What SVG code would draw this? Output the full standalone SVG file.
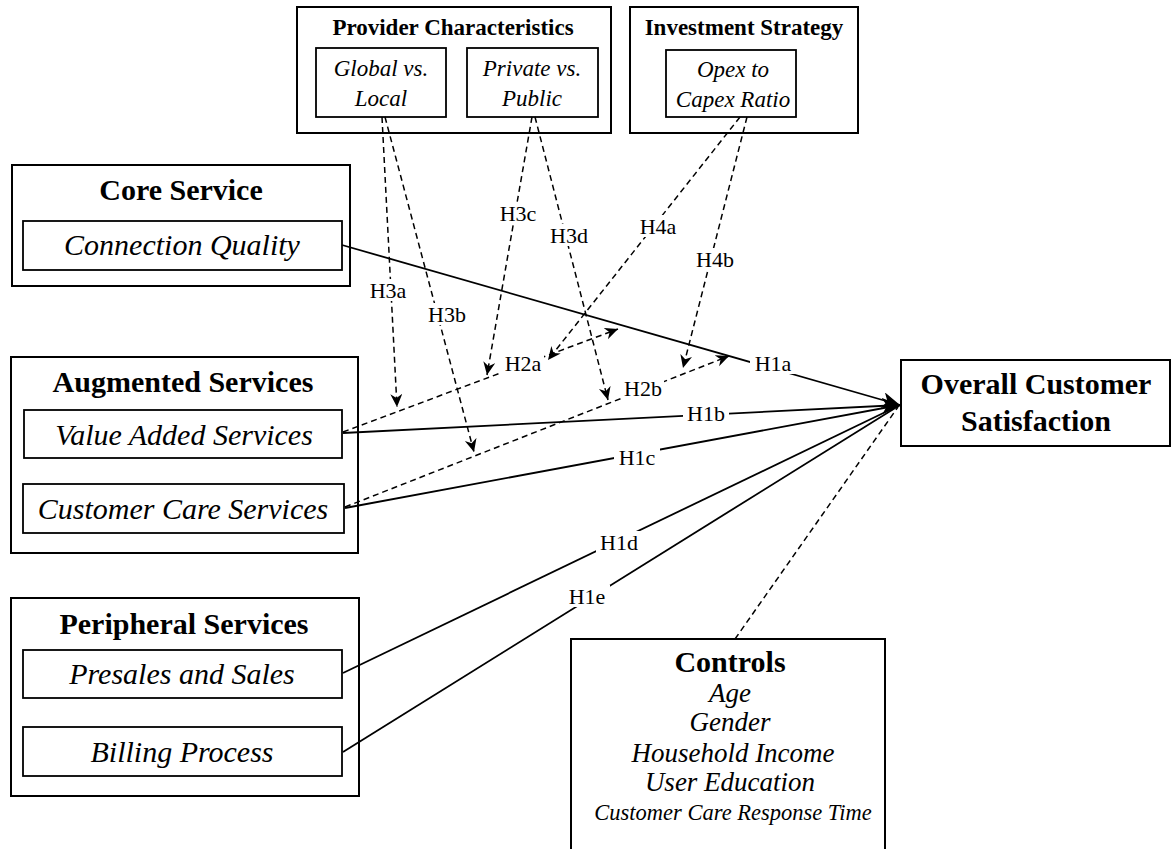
<svg xmlns="http://www.w3.org/2000/svg" width="1172" height="849" viewBox="0 0 1172 849">
<style>
.box{fill:#fff;stroke:#000;stroke-width:2}
.ibox{fill:#fff;stroke:#000;stroke-width:1.8}
.t{font-family:"Liberation Serif","Times New Roman",serif;fill:#000;text-anchor:middle}
.b30{font-size:30px;font-weight:bold}
.b23{font-size:23px;font-weight:bold}
.i30{font-size:30px;font-style:italic}
.i23{font-size:23px;font-style:italic}
.i27{font-size:27px;font-style:italic}
.i22{font-size:22.5px;font-style:italic}
.solid{fill:none;stroke:#000;stroke-width:1.8}
.dash{fill:none;stroke:#000;stroke-width:1.5;stroke-dasharray:6 4}
.lbl{font-family:"Liberation Serif","Times New Roman",serif;font-size:22px;fill:#000;text-anchor:middle}
.lbg{fill:#fff;stroke:none}
</style>
<defs>
<marker id="big" markerUnits="userSpaceOnUse" markerWidth="20" markerHeight="18" refX="18" refY="8" orient="auto">
<path d="M0,0 L18,8 L0,16 L5,8 z" fill="#000" stroke="none"/>
</marker>
<marker id="sm" markerUnits="userSpaceOnUse" markerWidth="15" markerHeight="14" refX="13" refY="6" orient="auto">
<path d="M0,0 L13,6 L0,12 L4,6 z" fill="#000" stroke="none"/>
</marker>
</defs>
<rect width="1172" height="849" fill="#fff"/>

<g id="provider">
<rect class="box" x="297" y="7" width="314" height="126"/>
<text class="t b23" x="453" y="35">Provider Characteristics</text>
<g id="global">
<rect class="ibox" x="316" y="48" width="130" height="69"/>
<text class="t i23" x="381" y="76">Global vs.</text>
<text class="t i23" x="381" y="106">Local</text>
</g>
<g id="private">
<rect class="ibox" x="467" y="48" width="131" height="69"/>
<text class="t i23" x="532" y="76">Private vs.</text>
<text class="t i23" x="532" y="106">Public</text>
</g>
</g>

<g id="investment">
<rect class="box" x="630" y="7" width="228" height="126"/>
<text class="t b23" x="744" y="35">Investment Strategy</text>
<g id="opex">
<rect class="ibox" x="666" y="50" width="130" height="67"/>
<text class="t i23" x="733" y="77">Opex to</text>
<text class="t i23" x="733" y="107">Capex Ratio</text>
</g>
</g>

<g id="core">
<rect class="box" x="12" y="165" width="338" height="121"/>
<text class="t b30" x="181" y="200">Core Service</text>
<g id="connection">
<rect class="ibox" x="23" y="221" width="319" height="49"/>
<text class="t i30" x="182" y="255">Connection  Quality</text>
</g>
</g>

<g id="augmented">
<rect class="box" x="11" y="357" width="347" height="196"/>
<text class="t b30" x="183" y="392">Augmented Services</text>
<g id="vas">
<rect class="ibox" x="24" y="410" width="318" height="48"/>
<text class="t i30" x="184" y="445">Value Added Services</text>
</g>
<g id="ccs">
<rect class="ibox" x="23" y="484" width="321" height="49"/>
<text class="t i30" x="183" y="519">Customer Care Services</text>
</g>
</g>

<g id="peripheral">
<rect class="box" x="11" y="598" width="348" height="198"/>
<text class="t b30" x="184" y="634">Peripheral Services</text>
<g id="presales">
<rect class="ibox" x="23" y="650" width="319" height="48"/>
<text class="t i30" x="182" y="684">Presales and  Sales</text>
</g>
<g id="billing">
<rect class="ibox" x="23" y="727" width="319" height="49"/>
<text class="t i30" x="182" y="762">Billing  Process</text>
</g>
</g>

<g id="ocs">
<rect class="box" x="901" y="360" width="269" height="86"/>
<text class="t b30" x="1036" y="394">Overall Customer</text>
<text class="t b30" x="1036" y="431">Satisfaction</text>
</g>

<g id="controls">
<rect class="box" x="571" y="639" width="314" height="230"/>
<text class="t b30" x="730" y="672">Controls</text>
<text class="t i27" x="730" y="702">Age</text>
<text class="t i27" x="730" y="731">Gender</text>
<text class="t i27" x="733" y="762">Household Income</text>
<text class="t i27" x="730" y="791">User Education</text>
<text class="t i22" x="733" y="820">Customer Care Response Time</text>
</g>

<g id="connectors">
<line class="solid" x1="342" y1="245" x2="900" y2="405" marker-end="url(#big)"/>
<line class="solid" x1="343" y1="433" x2="900" y2="405" marker-end="url(#big)"/>
<line class="solid" x1="345" y1="508" x2="900" y2="405"/>
<line class="solid" x1="343" y1="673" x2="900" y2="405"/>
<line class="solid" x1="343" y1="752" x2="900" y2="405"/>
<line class="dash" x1="735" y1="639" x2="898" y2="407"/>
<line class="dash" x1="343" y1="432" x2="618" y2="329" marker-end="url(#sm)"/>
<line class="dash" x1="345" y1="507" x2="729" y2="356" marker-end="url(#sm)"/>
<line class="dash" x1="382" y1="117" x2="397" y2="407" marker-end="url(#sm)"/>
<line class="dash" x1="385" y1="117" x2="474" y2="452" marker-end="url(#sm)"/>
<line class="dash" x1="532" y1="117" x2="487" y2="375" marker-end="url(#sm)"/>
<line class="dash" x1="535" y1="117" x2="608" y2="400" marker-end="url(#sm)"/>
<line class="dash" x1="740" y1="117" x2="548" y2="360" marker-end="url(#sm)"/>
<line class="dash" x1="747" y1="117" x2="683" y2="368" marker-end="url(#sm)"/>
</g>

<g id="labels">
<rect class="lbg" x="750" y="352" width="46" height="22"/><text class="lbl" x="773" y="371">H1a</text>
<rect class="lbg" x="683" y="402" width="46" height="22"/><text class="lbl" x="706" y="421">H1b</text>
<rect class="lbg" x="614" y="446" width="46" height="22"/><text class="lbl" x="637" y="465">H1c</text>
<rect class="lbg" x="596" y="531" width="46" height="22"/><text class="lbl" x="619" y="550">H1d</text>
<rect class="lbg" x="564" y="585" width="46" height="22"/><text class="lbl" x="587" y="604">H1e</text>
<rect class="lbg" x="502" y="352" width="42" height="22"/><text class="lbl" x="523" y="371">H2a</text>
<rect class="lbg" x="622" y="377" width="42" height="22"/><text class="lbl" x="643" y="396">H2b</text>
<rect class="lbg" x="368" y="279" width="40" height="22"/><text class="lbl" x="388" y="298">H3a</text>
<rect class="lbg" x="427" y="303" width="40" height="22"/><text class="lbl" x="447" y="322">H3b</text>
<rect class="lbg" x="498" y="202" width="40" height="22"/><text class="lbl" x="518" y="221">H3c</text>
<rect class="lbg" x="549" y="224" width="40" height="22"/><text class="lbl" x="569" y="243">H3d</text>
<rect class="lbg" x="638" y="215" width="40" height="22"/><text class="lbl" x="658" y="234">H4a</text>
<rect class="lbg" x="695" y="248" width="40" height="22"/><text class="lbl" x="715" y="267">H4b</text>
</g>
</svg>
